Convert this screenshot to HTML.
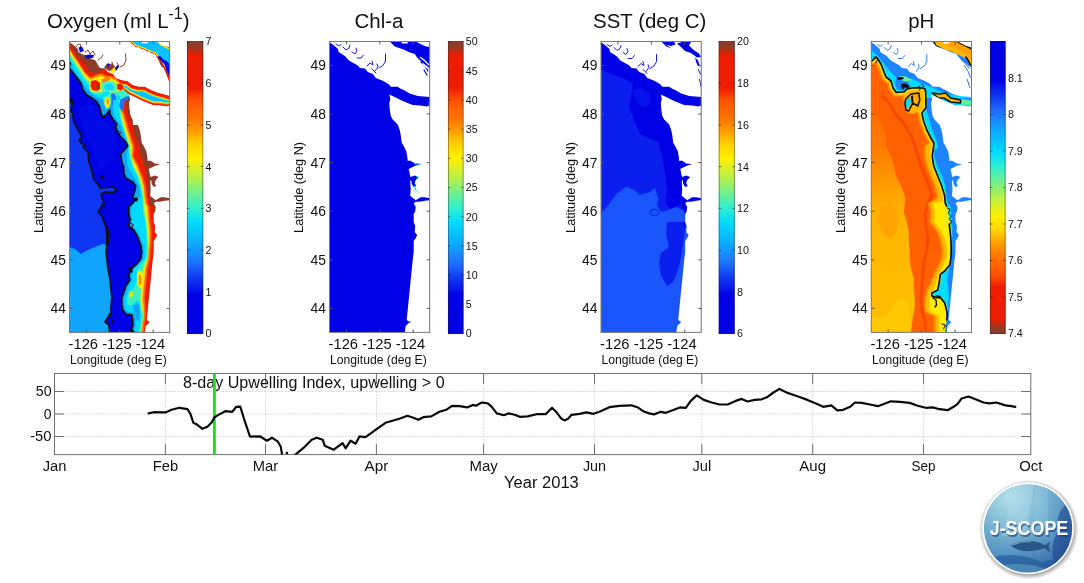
<!DOCTYPE html>
<html><head><meta charset="utf-8"><title>J-SCOPE forecast</title>
<style>html,body{margin:0;padding:0;background:#fff;overflow:hidden}svg{display:block}text{font-family:"Liberation Sans",sans-serif;fill:#111}svg{will-change:transform;transform:translateZ(0)}</style></head><body>
<svg width="1084" height="583" viewBox="0 0 1084 583">
<defs>
<clipPath id="mapclip"><rect x="0" y="0" width="100.2" height="290.9"/></clipPath>
<pattern id="dMed" width="2" height="2" patternUnits="userSpaceOnUse"><rect width="2" height="2" fill="#0000e6"/><rect width="1" height="1" fill="#1e6eff"/><rect x="1" y="1" width="1" height="1" fill="#1e6eff"/></pattern><pattern id="dLight" width="2" height="2" patternUnits="userSpaceOnUse"><rect width="2" height="2" fill="#1e6eff"/><rect width="1" height="1" fill="#00dcff"/><rect x="1" y="1" width="1" height="1" fill="#00dcff"/></pattern><pattern id="dSky" width="2" height="2" patternUnits="userSpaceOnUse"><rect width="2" height="2" fill="#0fa5ff"/><rect width="1" height="1" fill="#00dcff"/><rect x="1" y="1" width="1" height="1" fill="#00dcff"/></pattern><pattern id="dSST1" width="2" height="2" patternUnits="userSpaceOnUse"><rect width="2" height="2" fill="#0000e6"/><rect width="1" height="1" fill="#143cf5"/><rect x="1" y="1" width="1" height="1" fill="#143cf5"/></pattern><pattern id="dSST2" width="2" height="2" patternUnits="userSpaceOnUse"><rect width="2" height="2" fill="#143cf5"/><rect width="1" height="1" fill="#1e6eff"/><rect x="1" y="1" width="1" height="1" fill="#1e6eff"/></pattern><linearGradient id="cmap" x1="0" y1="0" x2="0" y2="1"><stop offset="0%" stop-color="#8c3c28"/><stop offset="1.7%" stop-color="#8c3c28"/><stop offset="5.0%" stop-color="#ee1c00"/><stop offset="16%" stop-color="#ee1c00"/><stop offset="20%" stop-color="#ff5000"/><stop offset="27%" stop-color="#ff7800"/><stop offset="31%" stop-color="#ffa000"/><stop offset="35%" stop-color="#ffd000"/><stop offset="40%" stop-color="#fff000"/><stop offset="46%" stop-color="#c0f040"/><stop offset="52%" stop-color="#70f090"/><stop offset="57%" stop-color="#30f0d0"/><stop offset="62%" stop-color="#00dcff"/><stop offset="70%" stop-color="#0fa5ff"/><stop offset="76%" stop-color="#1e6eff"/><stop offset="81%" stop-color="#0f37f2"/><stop offset="85%" stop-color="#0514ea"/><stop offset="86.4%" stop-color="#0000e6"/><stop offset="100%" stop-color="#0000e6"/></linearGradient><linearGradient id="cmapr" x1="0" y1="0" x2="0" y2="1"><stop offset="0%" stop-color="#0000e6"/><stop offset="13.599999999999994%" stop-color="#0000e6"/><stop offset="15%" stop-color="#0514ea"/><stop offset="19%" stop-color="#0f37f2"/><stop offset="24%" stop-color="#1e6eff"/><stop offset="30%" stop-color="#0fa5ff"/><stop offset="38%" stop-color="#00dcff"/><stop offset="43%" stop-color="#30f0d0"/><stop offset="48%" stop-color="#70f090"/><stop offset="54%" stop-color="#c0f040"/><stop offset="60%" stop-color="#fff000"/><stop offset="65%" stop-color="#ffd000"/><stop offset="69%" stop-color="#ffa000"/><stop offset="73%" stop-color="#ff7800"/><stop offset="80%" stop-color="#ff5000"/><stop offset="84%" stop-color="#ee1c00"/><stop offset="95.0%" stop-color="#ee1c00"/><stop offset="98.3%" stop-color="#8c3c28"/><stop offset="100%" stop-color="#8c3c28"/></linearGradient><linearGradient id="amb" x1="0" y1="0" x2="0" y2="1"><stop offset="0" stop-color="#ff6a00"/><stop offset="0.18" stop-color="#ff7c00"/><stop offset="0.30" stop-color="#ff9400"/><stop offset="0.45" stop-color="#ffb000"/><stop offset="0.6" stop-color="#ffb900"/><stop offset="1" stop-color="#ffbe00"/></linearGradient><radialGradient id="lg1" cx="0.30" cy="0.14" r="0.98"><stop offset="0" stop-color="#b4e0ea"/><stop offset="0.34" stop-color="#82bcd6"/><stop offset="0.66" stop-color="#5794c2"/><stop offset="1" stop-color="#2f5ca4"/></radialGradient><radialGradient id="lgsh" cx="0.5" cy="0.5" r="0.5"><stop offset="0.84" stop-color="#444" stop-opacity="0.75"/><stop offset="1" stop-color="#555" stop-opacity="0"/></radialGradient>
</defs>
<rect width="1084" height="583" fill="#fff"/>
<g transform="translate(69.5,41.5)"><g clip-path="url(#mapclip)">
<rect width="100.2" height="290.9" fill="#0000e6"/><polygon points="-0.5,56.5 2.5,58.5 2.5,64.5 1.5,68.5 3.5,74.5 4.5,80.5 7.5,86.5 10.5,91.5 12.5,95.5 9.5,98.5 11.5,101.5 15.5,103.5 13.5,105.5 18.5,110.5 19.5,120.5 22.5,130.5 24.5,138.5 28.5,142.5 30.5,146.5 33.5,146.5 43.5,145.5 47.5,148.5 43.5,151 35.5,150.5 31.5,152.5 32.5,156.5 34.5,161.5 28.5,170.5 32.5,174.5 34.5,180.5 37.5,187.5 38.5,194.5 37.5,202.5 36.5,210.5 37.5,218.5 38.3,226.5 40.3,236.5 41.3,246.5 42.3,256.5 41.3,266.5 41.3,271.5 35.4,280.5 39.3,283.5 40.3,291.5 -9.5,291.5 -9.5,56.5" fill="url(#dMed)" /><polygon points="-0.5,205.5 5.5,207.5 11.5,212.5 18.5,208.5 25.5,205.5 33.5,202.5 38.5,203.5 36.5,210.5 37.5,218.5 38.3,226.5 40.3,236.5 41.3,246.5 42.3,256.5 41.3,266.5 41.3,271.5 35.4,280.5 39.3,283.5 40.3,291.5 -9.5,291.5 -9.5,205.5" fill="url(#dLight)" /><polygon points="8.5,66.5 22.5,62.5 30.5,76.5 42.5,86.5 48.5,104.5 42.5,118.5 30.5,128.5 22.5,108.5 14.5,88.5" fill="url(#dMed)" opacity="0.18"/><polygon points="-0.5,26.4 3.5,31.4 7.5,36.4 11.4,41.3 13.4,48.3 17.4,53.5 22.4,56.5 27.4,60.5 30.4,65.5 31.4,71.5 33.4,75.5 36.3,73.5 40.3,68.5 40.3,72.5 43.3,77.5 47.3,82.5 46.3,85.5 48.3,91.5 52.3,96.5 56.3,100.5 58.3,104.5 51.3,112.5 52.3,120.5 54.3,125.5 54.3,131.5 56.3,136.5 63.3,140.5 66.2,144.5 65.2,149.5 63.3,155.5 65.2,158.5 63.3,161.5 59.3,165.5 59.3,172.5 60.3,177.5 59.3,184.5 64.2,188.5 68.2,195.5 71.2,203.5 72.2,210.5 71.2,217.5 67.2,222.5 61.3,227.5 59.3,233.5 60.3,238.5 56.3,244.5 54.3,250.5 52.3,256.5 52.3,263.5 53.3,268.5 56.3,272.5 62.3,273.5 63.3,278.5 63.3,284.5 61.3,288.5 65.2,291.5 105.5,291.5 105.5,-5.5 -5.5,-5.5" fill="#0fa5ff" /><polygon points="-5.5,15 0.7,22 3.7,27.4 8.5,34 12.1,40 15.7,45.4 19.3,49 22.5,52.5 26.5,55.5 33.5,58 38.5,55 43.5,58.5 43.5,70.5 105.5,70.5 105.5,-5.5 -5.5,-5.5" fill="#00dcff" /><polygon points="-5.5,9.5 0.7,16.5 3.7,21.9 8.5,28.5 12.1,34.5 15.7,39.9 19.3,43.5 20.5,46 20.5,49.5 24.5,52.5 30.5,53.5 34.5,52.5 33.5,56.5 34.5,62.5 36.5,67.5 39.5,66.5 41.5,61.5 42.5,55.5 46.5,53 50.5,54.5 51.5,58.5 105.5,58.5 105.5,-5.5 -5.5,-5.5" fill="#3cf0c0" /><polygon points="-5.5,6.5 0.7,13.5 3.7,18.9 8.5,25.5 12.1,31.5 15.7,36.9 19.3,40.5 20,42.5 20.3,48.5 23.5,51 30.5,51 36.5,49.5 42.5,51.5 47.5,50.5 51.5,48.5 54.5,48.5 105.5,48.5 105.5,-5.5 -5.5,-5.5" fill="#a0f060" /><polygon points="-5.5,4.5 0.7,11.5 3.7,16.9 8.5,23.5 12.1,29.5 15.7,34.9 19.3,38.5 20,40.5 20.5,48 23.5,50 28.5,50 31.5,47.5 31.5,42.5 34.5,40 40.5,39.5 46.5,42 47.5,47.5 50.5,49.5 54.5,47.5 56.5,46.5 105.5,46.5 105.5,-5.5 -5.5,-5.5" fill="#ffeb00" /><polygon points="-5.5,2.5 0.7,9.5 3.7,14.9 8.5,21.5 12.1,27.5 15.7,32.9 19.3,36.5 21,38 26.5,35.5 32.5,34.3 36.1,36.7 40.9,36.7 44.5,37.9 48.1,40.3 51.5,41.7 59.5,45.7 105.5,45.7 105.5,-5.5 -5.5,-5.5" fill="#ff8000" /><polygon points="-5.5,0.5 0.7,7.5 3.7,12.9 8.5,19.5 12.1,25.5 15.7,30.9 19.3,34.5 21.7,35.7 26.5,33.3 32.5,32.1 36.1,34.5 40.9,34.5 44.5,35.7 48.1,38.1 51.5,39.5 59.5,43.5 69.5,48 85.5,54.5 105.5,58.5 105.5,-5.5 -5.5,-5.5" fill="#ee1c00" /><polygon points="-5.5,-3.5 0.7,3.3 3.7,9.3 8.5,15.3 13.3,19.5 16.9,24.3 19.3,29.7 24.1,31.5 28.9,30.9 32.5,29.1 36.5,27.5 38.5,25.5 105.5,25.5 105.5,-5.5 -5.5,-5.5" fill="#8c3c28" /><polygon points="31.5,39.5 40.5,39.1 47,41.7 47.5,47.5 42.5,50.7 34.5,50.1 31.5,47.5" fill="#50f0c0" /><polygon points="35,43.5 40.5,42 44.5,44.5 43.5,48.5 37.5,49 35,47" fill="#00dcff" /><polygon points="32,37.7 39,36.1 41,38.1 34.5,40.9 32,40.5" fill="#ff8000" /><polygon points="20.5,39 27,37.7 31.5,41.1 31.7,48.1 28,50.5 22,49.5 20.1,44.5" fill="#ffeb00" /><polygon points="21.5,39.5 26.5,38.5 30.5,41.5 30.7,47.5 27.5,49.5 22.5,48.5 21,44.5" fill="#ee1c00" /><polygon points="26.5,44.1 30.1,43.9 30.3,47.3 27.5,48.1" fill="#8c3c28" /><polygon points="46.9,41.7 52.9,41.5 54.9,46.5 51.9,49.9 47.3,48.3" fill="#ffeb00" /><polygon points="47.7,42.5 52.5,42.5 54.1,46.5 51.5,49 48.1,47.5" fill="#ee1c00" /><polygon points="32.5,52 36.5,50 40.5,51 37.5,54.5 33.5,55" fill="#00dcff" /><polygon points="35.5,56.5 38.5,55.5 41,59.5 39.5,65.5 36.5,66.5 35,61.5" fill="#ffeb00" /><polygon points="37,58 39,57.5 39.5,61.5 37.5,63" fill="#ff8000" /><polygon points="41.5,52.5 44.5,51.5 46.5,55.5 45.5,61.5 43,64.5 42,58.5" fill="#1e6eff" /><polygon points="43.5,58.5 43.3,70.5 47.3,78.5 51.3,84.5 54.3,91.5 56.3,97.5 59.3,103.5 57,114.5 58,124.5 64,134.5 69.2,144.5 71.2,154.5 65.5,161.5 62,165.5 61.5,172.5 62.5,177.5 62,184.5 66.5,188.5 70.5,195.5 73.5,203.5 74.5,210.5 73.5,217.5 69.5,222.5 64,227.5 62,233.5 62.5,238.5 59,244.5 57,250.5 55,256.5 55,263.5 56,267.5 58.5,270.5 64.5,271.5 66,278.5 66,284.5 64.5,288.5 67.5,291.5 105.5,291.5 105.5,58.5" fill="#00dcff" /><polygon points="77.5,210.5 75.5,217.5 72,222.5 68,227.5 67,233.5 67,238.5 65,244.5 62.5,248.5 59,252.5 57.5,257.5 58,262.5 61,264.5 64.5,261.5 67.5,258.5 70.5,260.5 71.5,266.5 72,274.5 71,282.5 70,291.5 105.5,291.5 105.5,210.5" fill="#3cf0c0" /><polygon points="48.9,58.5 49.7,68.5 50.7,76.5 52.7,84.5 54.7,91.5 56.7,97.5 58.7,103.5 59.7,114.5 62.6,124.5 67.6,134.5 70.6,144.5 72.6,154.5 73.1,161.5 73.6,170.5 75.6,180.5 76.6,190.5 77.1,200.5 77.1,216.5 74.6,220.5 72.6,226.5 71.6,236.5 70.6,246.5 69.6,256.5 70.6,266.5 72.6,274.5 71.6,280.5 69.6,291.5 105.5,291.5 105.5,58.5" fill="#3cf0c0" /><polygon points="49.9,58.5 50.7,68.5 51.7,76.5 53.7,84.5 55.7,91.5 57.7,97.5 59.7,103.5 60.7,114.5 63.6,124.5 68.6,134.5 71.6,144.5 73.6,154.5 74.1,161.5 74.6,170.5 76.6,180.5 77.6,190.5 78.1,200.5 78.1,216.5 75.6,220.5 73.6,226.5 72.6,236.5 71.6,246.5 70.6,256.5 71.6,266.5 73.6,274.5 72.6,280.5 70.6,291.5 105.5,291.5 105.5,58.5" fill="#a0f060" /><polygon points="50.9,58.5 51.7,68.5 52.7,76.5 54.7,84.5 56.7,91.5 58.7,97.5 60.7,103.5 61.7,114.5 64.6,124.5 69.6,134.5 72.6,144.5 74.6,154.5 75.1,161.5 75.6,170.5 77.6,180.5 78.6,190.5 79.1,200.5 79.1,216.5 76.6,220.5 74.6,226.5 73.6,236.5 72.6,246.5 71.6,256.5 72.6,266.5 74.6,274.5 73.6,280.5 71.6,291.5 105.5,291.5 105.5,58.5" fill="#ffeb00" /><polygon points="51.7,57.5 51.2,68.5 53.7,76.5 55.7,83.5 57.7,90.5 59.7,96.5 61.6,102.5 62.6,106.5 61.6,114.5 66.6,124.5 70.6,134.5 73.6,144.5 74.6,154.5 75.6,161.5 77.6,166.5 77.6,170.5 78.6,180.5 79.6,190.5 79.6,200.5 78.6,210.5 78.1,217.5 75.6,226.5 74.6,236.5 73.6,246.5 72.6,256.5 73.6,266.5 73.9,274.5 72.6,282.5 71.6,291.5 105.5,291.5 105.5,57.5" fill="#ffb000" /><polygon points="52.6,57.5 52.1,68.5 54.6,76.5 56.6,83.5 58.6,90.5 60.6,96.5 62.5,102.5 63.5,106.5 62.5,114.5 67.5,124.5 71.5,134.5 74.5,144.5 75.5,154.5 76.5,161.5 78.5,166.5 78.5,170.5 79.5,180.5 80.5,190.5 80.5,200.5 79.5,210.5 79,217.5 76.5,226.5 75.5,236.5 74.5,246.5 73.5,256.5 74.5,266.5 74.8,274.5 73.5,282.5 72.5,291.5 105.5,291.5 105.5,57.5" fill="#ff6000" /><polygon points="54.3,57.5 53.8,68.5 56.3,76.5 58.3,83.5 60.3,90.5 62.3,96.5 64.2,102.5 65.2,106.5 64.2,114.5 69.2,124.5 73.2,134.5 76.2,144.5 77.2,154.5 78.2,161.5 80.2,166.5 80.2,170.5 81.2,180.5 82.2,190.5 82.2,200.5 81.2,210.5 80.7,217.5 78.2,226.5 77.2,236.5 76.2,246.5 75.2,256.5 76.2,266.5 76.5,274.5 75.2,282.5 74.2,291.5 105.5,291.5 105.5,57.5" fill="#ee1c00" /><polygon points="56.7,56.5 56.3,60.5 57.3,68.5 60.3,76.5 62.3,82.5 64.2,88.5 65.2,94.5 68.2,100.5 70,106.5 71.2,114.5 75.2,124.5 77.2,134.5 78.2,144.5 79.2,154.5 80.4,161.5 83.5,164.5 85,170.5 87.5,174.5 105.5,174.5 105.5,56.5" fill="#8c3c28" /><polygon points="76.5,116.5 95.5,116.5 95.5,164.5 80.5,164.5" fill="#8c3c28" /><polygon points="67.5,230.5 71,229 73.5,232.5 73.5,244.5 70.5,247.5 68,242.5" fill="#ffeb00" /><polygon points="69.1,234.5 71.5,233.5 71.9,242.5 69.7,244" fill="#ff8a00" /><polygon points="59.3,251 62,249.5 64,252.5 62,255.5 59.5,255" fill="#ffeb00" /><polygon points="60.5,251.7 61.9,251.1 62.5,253.1 61.1,253.7" fill="#ffa000" /><polygon points="63,264.5 67.5,261.5 70,264.5 70.5,274.5 68.5,280.5 66,276.5 64.5,269.5" fill="#0fa5ff" /><polygon points="58.5,-5.5 105.5,-5.5 105.5,33.5 90.5,18.5 80.5,12.5 66.5,6.5" fill="url(#dSky)" /><polyline points="61.1,0 65.9,4.5 74.7,7.5 79.7,9.9 85.7,11.9 87.9,15.1" fill="none" stroke="#ffeb00" stroke-width="2.4" stroke-linejoin="round" stroke-linecap="round" /><polyline points="60.3,0 65.2,5 74.2,8 79.2,10.5 85.2,12.5 87.2,15.5" fill="none" stroke="#ee1c00" stroke-width="1.8" stroke-linejoin="round" stroke-linecap="round" stroke-dasharray="5 2 2 3"/><polygon points="71.5,-0.5 78.5,-0.5 77.5,2 72.5,2" fill="#0000e6" /><polygon points="87.5,15.5 90.5,14.5 96.5,20.5 101.5,25.5 101.5,40.5 97.5,36.5 93.5,26.5 88.5,19.5" fill="#0000e6" /><polygon points="89.5,20.5 92.5,21.5 98.5,30.5 100.5,38.5 96.5,34.5 92.5,27.5" fill="#ee1c00" /><polygon points="90.5,22 92.5,23.5 93.5,27 91.5,25.5" fill="#8c3c28" /><polygon points="90.5,1 94.5,2.5 100.5,6 100.5,8.5 94.5,5.5 89.5,3" fill="#ffeb00" /><polygon points="92.5,1.5 96.5,3 100.5,6 100.5,7 95.5,4.5" fill="#ee1c00" /><polyline points="-0.5,26.4 3.5,31.4 7.5,36.4 11.4,41.3 13.4,48.3 17.4,53.5 22.4,56.5 27.4,60.5 30.4,65.5 31.4,71.5 33.4,75.5 36.3,73.5 40.3,68.5 40.3,72.5 43.3,77.5 47.3,82.5 46.3,85.5 48.3,91.5 52.3,96.5 56.3,100.5 58.3,104.5 51.3,112.5 52.3,120.5 54.3,125.5 54.3,131.5 56.3,136.5 63.3,140.5 66.2,144.5 65.2,149.5 63.3,155.5 65.2,158.5 63.3,161.5 59.3,165.5 59.3,172.5 60.3,177.5 59.3,184.5 64.2,188.5 68.2,195.5 71.2,203.5 72.2,210.5 71.2,217.5 67.2,222.5 61.3,227.5 59.3,233.5 60.3,238.5 56.3,244.5 54.3,250.5 52.3,256.5 52.3,263.5 53.3,268.5 56.3,272.5 62.3,273.5 63.3,278.5 63.3,284.5 61.3,288.5 65.2,291.5" fill="none" stroke="#111" stroke-width="1.7" stroke-linejoin="round" stroke-linecap="round" /><polyline points="-0.5,56.5 2.5,58.5 2.5,64.5 1.5,68.5 3.5,74.5 4.5,80.5 7.5,86.5 10.5,91.5 12.5,95.5 9.5,98.5 11.5,101.5 15.5,103.5 13.5,105.5 18.5,110.5 19.5,120.5 22.5,130.5 24.5,138.5 28.5,142.5 30.5,146.5 33.5,146.5 43.5,145.5 47.5,148.5 43.5,151 35.5,150.5 31.5,152.5 32.5,156.5 34.5,161.5 28.5,170.5 32.5,174.5 34.5,180.5 37.5,187.5 38.5,194.5 37.5,202.5 36.5,210.5 37.5,218.5 38.3,226.5 40.3,236.5 41.3,246.5 42.3,256.5 41.3,266.5 41.3,271.5 35.4,280.5 39.3,283.5 40.3,291.5" fill="none" stroke="#111" stroke-width="1.7" stroke-linejoin="round" stroke-linecap="round" /><polyline points="37.1,185.5 38.3,194.5 37.7,203.5" fill="none" stroke="#111" stroke-width="3.0" stroke-linejoin="round" stroke-linecap="round" /><polyline points="60,226.5 62,230" fill="none" stroke="#111" stroke-width="2.6" stroke-linejoin="round" stroke-linecap="round" /><circle cx="32.5" cy="135.5" r="1.9" fill="#111"/><circle cx="2.1" cy="59.5" r="2.2" fill="#111"/><circle cx="0.3" cy="22.0" r="1.4" fill="#111"/><circle cx="66.5" cy="158.0" r="2.0" fill="#111"/><circle cx="61.5" cy="227.5" r="1.6" fill="#111"/><circle cx="37.7" cy="190.5" r="1.7" fill="#111"/><polyline points="45.5,85 44,87 46.5,88.5" fill="none" stroke="#111" stroke-width="1.0" stroke-linejoin="round" stroke-linecap="round" /><polyline points="48.5,89.5 51,91 49.5,93.5" fill="none" stroke="#111" stroke-width="1.0" stroke-linejoin="round" stroke-linecap="round" /><polyline points="32,161.5 35,163.5 36.5,167 34,165.5" fill="none" stroke="#111" stroke-width="1.0" stroke-linejoin="round" stroke-linecap="round" /><polyline points="59,175.5 61.5,178 59.5,180" fill="none" stroke="#111" stroke-width="1.0" stroke-linejoin="round" stroke-linecap="round" /><polyline points="61,181.5 64,183.5 62,186.5" fill="none" stroke="#111" stroke-width="1.0" stroke-linejoin="round" stroke-linecap="round" /><polyline points="39,272.5 42,274 40.5,276.5" fill="none" stroke="#111" stroke-width="1.0" stroke-linejoin="round" stroke-linecap="round" /><polyline points="42,278 44,280 41.5,281.5" fill="none" stroke="#111" stroke-width="1.0" stroke-linejoin="round" stroke-linecap="round" /><polyline points="61.5,287.5 64,288.5 63,290.5" fill="none" stroke="#111" stroke-width="1.0" stroke-linejoin="round" stroke-linecap="round" /><polygon points="0,0 0.5,1 4.5,4 8.5,7.5 9,10.5 15.4,14.4 19.4,18.9 28.4,23.9 30.4,26.4 35.4,26.9 38.3,30.4 43.3,32.4 46.3,36.4 53.3,39.3 59.3,42.8 61.3,45.3 68.2,45.3 71.2,47.3 74.2,48.5 80.2,52 88.2,54.5 94.1,55 100.5,55.5 100.5,26.5 99.1,25.5 95.1,22.5 91.1,19.5 87.2,15.5 85.2,12.5 79.2,10.5 74.2,8 65.2,5 60.3,0" fill="#fff" /><polygon points="85.2,-0.5 101.5,-0.5 101.5,6 95.1,4.5 91.1,2.5" fill="#fff" /><polygon points="72.2,-0.5 78.2,-0.5 78.2,2.1 72.2,2.1" fill="#fff" /><polygon points="101.5,63.5 97.1,64.9 91.1,63.9 83.2,63.5 73.2,59.5 65.2,55.5 59.8,53 60.8,57.5 59.8,61.5 60.3,68.5 61.3,74.5 63.2,77.9 68.2,82.9 70.2,88.4 71.2,93.3 72.2,101.3 74.2,104.5 76.7,109.5 77.7,114.5 78.2,119.5 80.5,119 83.2,120.5 85.2,122.1 91.1,122.5 85.2,124.5 81.2,126.5 79.2,127.5 79.7,129.5 80.7,134.5 81.2,135.5 85.2,133.9 89.2,135.5 86.2,138.5 85.2,141.5 86.7,144.5 84.2,145.5 82.2,142.5 81.7,138.5 80.7,139.5 81.2,147.5 80.7,154.5 82.2,155.5 86.2,158.8 91.1,155.8 95.1,155.8 101.5,156.8 101.5,158.5 95.1,159.3 90.1,160.3 86.2,160.3 84.2,161.8 86.2,165.5 85.7,170 84.2,172.5 84.2,180.5 85.7,184.5 85.2,190.5 87.7,193.5 85.7,197.5 84.2,199.5 84.2,210.5 83.2,218.5 81.2,238.5 80.2,248.5 79.2,258.5 78.2,268.5 77.2,278.5 80.2,280.5 76.2,284.5 75.2,291.5 101.5,291.5" fill="#fff" /><polygon points="47.5,37.5 50.5,38.5 57.9,39.8 62.9,43.5 69,45.3 75.2,45.3 81.4,48.4 87.6,50.9 93.8,52.7 105.5,56 105.5,63.5 97.1,64.9 91.1,63.9 83.2,63.5 73.2,59.5 65.2,55.5 59.8,53 55.5,49.5" fill="#ee1c00" /><polygon points="46.6,40.4 49.6,41.4 57,42.7 62,46.4 68.1,48.2 74.3,48.2 80.5,51.3 86.7,53.8 92.9,55.6 104.6,58.9 105.5,61.8 97.1,63.2 91.1,62.2 83.2,61.8 73.2,57.8 65.2,53.8 59.8,51.3 55.5,47.8" fill="#ff8000" /><polygon points="46.5,41 49.5,42 56.9,43.3 61.8,47 67.9,48.8 74.1,48.8 80.3,51.9 86.5,54.4 92.8,56.2 104.4,59.5 105.5,60.9 97.1,62.3 91.1,61.3 83.2,60.9 73.2,56.9 65.2,52.9 59.8,50.4 55.5,46.9" fill="#ffeb00" /><polygon points="46.2,41.7 49.2,42.7 56.6,44 61.6,47.7 67.7,49.5 73.9,49.5 80.1,52.6 86.3,55.1 92.5,56.9 104.2,60.2 105.5,60 97.1,61.4 91.1,60.4 83.2,60 73.2,56 65.2,52 59.8,49.5 55.5,46" fill="#50f0b0" /><polygon points="46.1,42.3 49.1,43.3 56.5,44.6 61.5,48.3 67.6,50.1 73.8,50.1 80,53.2 86.2,55.7 92.4,57.5 104.1,60.8 105.5,59.4 97.1,60.8 91.1,59.8 83.2,59.4 73.2,55.4 65.2,51.4 59.8,48.9 55.5,45.4" fill="url(#dSky)" /><polygon points="47.7,42.5 52.5,42.5 54.1,46.5 51.5,49 48.1,47.5" fill="#ee1c00" /><polygon points="50.5,58.5 56.5,55 60,54.5 59.1,58.5 55,59 54.5,64.5 52.5,70.5 49.5,64.5" fill="#1e6eff" /><polygon points="59.8,53 65.2,55.5 73.2,59.5 83.2,63.5 91.1,63.9 97.1,64.9 105.5,63.5 105.5,83.5 63.5,83.5 63.2,77.9 61.3,74.5 60.3,68.5 59.8,61.5 60.8,57.5" fill="#fff" /><polygon points="93.5,18.5 96.5,19 101,23.5 101,39.5 99,35.5 96.5,27.5" fill="#0000e6" /><polyline points="89,17.5 92.5,22 95.5,27.5 98,33.5 100.3,39.5" fill="none" stroke="#ee1c00" stroke-width="1.7" stroke-linejoin="round" stroke-linecap="round" /><polyline points="91,21 93,24.5" fill="none" stroke="#8c3c28" stroke-width="2.2" stroke-linejoin="round" stroke-linecap="round" /><polyline points="97,29.5 98.5,33" fill="none" stroke="#8c3c28" stroke-width="1.6" stroke-linejoin="round" stroke-linecap="round" /><polyline points="6.5,5.5 9,2.5 11.5,3.5 10.5,7" fill="none" stroke="#8c3c28" stroke-width="1.0" stroke-linejoin="round" stroke-linecap="round" /><polyline points="15.5,10.5 18.5,8.5 20.5,12.5 23.5,9.5 25.5,13.5" fill="none" stroke="#8c3c28" stroke-width="1.0" stroke-linejoin="round" stroke-linecap="round" /><polyline points="28.5,18.5 31.5,16.5 33.5,13.5" fill="none" stroke="#8c3c28" stroke-width="1.0" stroke-linejoin="round" stroke-linecap="round" /><polyline points="38.5,26.5 40.5,22.5 43.5,24.5 42.5,20.5" fill="none" stroke="#8c3c28" stroke-width="1.0" stroke-linejoin="round" stroke-linecap="round" /><polyline points="46.5,28.5 49.5,24.5 47.5,21.5" fill="none" stroke="#8c3c28" stroke-width="1.0" stroke-linejoin="round" stroke-linecap="round" /><polyline points="50.5,25.5 54.5,23.5 56.5,18.5 56,12.5" fill="none" stroke="#8c3c28" stroke-width="1.0" stroke-linejoin="round" stroke-linecap="round" /><polygon points="13.5,13 19,14 21.5,17.5 25.5,18.5 28,22.5 30.5,27.5 28.5,28.5 22.5,24.5 16.5,19" fill="#8c3c28" /><polygon points="34.5,26 37.5,22 40.5,24.5 42.5,21.5 45.5,25 44,30.5 38.5,29" fill="#8c3c28" /><polygon points="40.5,29.5 46.5,24.5 49,25.5 43.5,32" fill="#ffeb00" /><polygon points="9,6 12.5,5 14.5,9.5 10.5,11" fill="#0000e6" /><polygon points="16,14 19.5,13 24.5,13.5 23.5,16.5 16.5,17" fill="#0000e6" /><polygon points="37.5,22.5 39.5,21.5 40.5,24.5 38.5,25.5" fill="#0000e6" /><polygon points="45.5,26.5 48,23.5 49.5,25 46.5,29.5" fill="#0000e6" />
</g></g>
<rect x="69.5" y="41.5" width="100.2" height="290.9" fill="none" stroke="#7a7a7a" stroke-width="1"/><path d="M69.5 65.4h3M169.7 65.4h-3" stroke="#5a5a5a" stroke-width="1"/><text x="65.9" y="70.3" font-size="13.8" text-anchor="end" textLength="15.4" lengthAdjust="spacingAndGlyphs" >49</text><path d="M69.5 114.0h3M169.7 114.0h-3" stroke="#5a5a5a" stroke-width="1"/><text x="65.9" y="118.9" font-size="13.8" text-anchor="end" textLength="15.4" lengthAdjust="spacingAndGlyphs" >48</text><path d="M69.5 162.6h3M169.7 162.6h-3" stroke="#5a5a5a" stroke-width="1"/><text x="65.9" y="167.5" font-size="13.8" text-anchor="end" textLength="15.4" lengthAdjust="spacingAndGlyphs" >47</text><path d="M69.5 211.2h3M169.7 211.2h-3" stroke="#5a5a5a" stroke-width="1"/><text x="65.9" y="216.1" font-size="13.8" text-anchor="end" textLength="15.4" lengthAdjust="spacingAndGlyphs" >46</text><path d="M69.5 259.8h3M169.7 259.8h-3" stroke="#5a5a5a" stroke-width="1"/><text x="65.9" y="264.7" font-size="13.8" text-anchor="end" textLength="15.4" lengthAdjust="spacingAndGlyphs" >45</text><path d="M69.5 308.4h3M169.7 308.4h-3" stroke="#5a5a5a" stroke-width="1"/><text x="65.9" y="313.3" font-size="13.8" text-anchor="end" textLength="15.4" lengthAdjust="spacingAndGlyphs" >44</text><path d="M86.4 332.4v-3M86.4 41.5v3" stroke="#5a5a5a" stroke-width="1"/><path d="M119.8 332.4v-3M119.8 41.5v3" stroke="#5a5a5a" stroke-width="1"/><path d="M153.2 332.4v-3M153.2 41.5v3" stroke="#5a5a5a" stroke-width="1"/><text x="68.6" y="349.0" font-size="13.8" text-anchor="start" textLength="96.6" lengthAdjust="spacingAndGlyphs" xml:space="preserve">-126 -125 -124</text><text x="70.1" y="364.2" font-size="12.2" text-anchor="start" textLength="96.6" lengthAdjust="spacingAndGlyphs" >Longitude (deg E)</text><text transform="translate(43.0,187.4) rotate(-90)" font-size="12.2" text-anchor="middle" textLength="91" lengthAdjust="spacingAndGlyphs">Latitude (deg N)</text>
<rect x="187.0" y="41.0" width="16.2" height="293.0" fill="url(#cmap)"/><path d="M187.4 41.0V333.5H202.79999999999998V41.0" fill="none" stroke="#222" stroke-width="0.8" stroke-opacity="0.55"/><path d="M187.0 333.5h2.5M203.2 333.5h-2.5" stroke="#222" stroke-width="0.8" stroke-opacity="0.7"/><text x="205.5" y="337.4" font-size="10.67" text-anchor="start" >0</text><path d="M187.0 291.8h2.5M203.2 291.8h-2.5" stroke="#222" stroke-width="0.8" stroke-opacity="0.7"/><text x="205.5" y="295.6" font-size="10.67" text-anchor="start" >1</text><path d="M187.0 250.1h2.5M203.2 250.1h-2.5" stroke="#222" stroke-width="0.8" stroke-opacity="0.7"/><text x="205.5" y="253.9" font-size="10.67" text-anchor="start" >2</text><path d="M187.0 208.4h2.5M203.2 208.4h-2.5" stroke="#222" stroke-width="0.8" stroke-opacity="0.7"/><text x="205.5" y="212.2" font-size="10.67" text-anchor="start" >3</text><path d="M187.0 166.6h2.5M203.2 166.6h-2.5" stroke="#222" stroke-width="0.8" stroke-opacity="0.7"/><text x="205.5" y="170.5" font-size="10.67" text-anchor="start" >4</text><path d="M187.0 124.9h2.5M203.2 124.9h-2.5" stroke="#222" stroke-width="0.8" stroke-opacity="0.7"/><text x="205.5" y="128.8" font-size="10.67" text-anchor="start" >5</text><path d="M187.0 83.2h2.5M203.2 83.2h-2.5" stroke="#222" stroke-width="0.8" stroke-opacity="0.7"/><text x="205.5" y="87.1" font-size="10.67" text-anchor="start" >6</text><path d="M187.0 41.5h2.5M203.2 41.5h-2.5" stroke="#222" stroke-width="0.8" stroke-opacity="0.7"/><text x="205.5" y="45.4" font-size="10.67" text-anchor="start" >7</text>
<g transform="translate(329.5,41.5)"><g clip-path="url(#mapclip)">
<rect width="100.2" height="290.9" fill="#0000e6"/><polygon points="0,0 0.5,1 4.5,4 8.5,7.5 9,10.5 15.4,14.4 19.4,18.9 28.4,23.9 30.4,26.4 35.4,26.9 38.3,30.4 43.3,32.4 46.3,36.4 53.3,39.3 59.3,42.8 61.3,45.3 68.2,45.3 71.2,47.3 74.2,48.5 80.2,52 88.2,54.5 94.1,55 100.5,55.5 100.5,26.5 99.1,25.5 95.1,22.5 91.1,19.5 87.2,15.5 85.2,12.5 79.2,10.5 74.2,8 65.2,5 60.3,0" fill="#fff" /><polygon points="85.2,-0.5 101.5,-0.5 101.5,6 95.1,4.5 91.1,2.5" fill="#fff" /><polygon points="72.2,-0.5 78.2,-0.5 78.2,2.1 72.2,2.1" fill="#fff" /><polygon points="101.5,63.5 97.1,64.9 91.1,63.9 83.2,63.5 73.2,59.5 65.2,55.5 59.8,53 60.8,57.5 59.8,61.5 60.3,68.5 61.3,74.5 63.2,77.9 68.2,82.9 70.2,88.4 71.2,93.3 72.2,101.3 74.2,104.5 76.7,109.5 77.7,114.5 78.2,119.5 80.5,119 83.2,120.5 85.2,122.1 91.1,122.5 85.2,124.5 81.2,126.5 79.2,127.5 79.7,129.5 80.7,134.5 81.2,135.5 85.2,133.9 89.2,135.5 86.2,138.5 85.2,141.5 86.7,144.5 84.2,145.5 82.2,142.5 81.7,138.5 80.7,139.5 81.2,147.5 80.7,154.5 82.2,155.5 86.2,158.8 91.1,155.8 95.1,155.8 101.5,156.8 101.5,158.5 95.1,159.3 90.1,160.3 86.2,160.3 84.2,161.8 86.2,165.5 85.7,170 84.2,172.5 84.2,180.5 85.7,184.5 85.2,190.5 87.7,193.5 85.7,197.5 84.2,199.5 84.2,210.5 83.2,218.5 81.2,238.5 80.2,248.5 79.2,258.5 78.2,268.5 77.2,278.5 80.2,280.5 76.2,284.5 75.2,291.5 101.5,291.5" fill="#fff" /><polyline points="6.5,2.5 9.5,4.5 11.5,3" fill="none" stroke="#0000e6" stroke-width="0.9" stroke-linejoin="round" stroke-linecap="round" /><polyline points="13.5,5.5 16.5,8.5 19.5,6.5 20.5,3.5" fill="none" stroke="#0000e6" stroke-width="0.9" stroke-linejoin="round" stroke-linecap="round" /><polyline points="22.5,10.5 25.5,12.5 27.5,9.5 26.5,6.5" fill="none" stroke="#0000e6" stroke-width="0.9" stroke-linejoin="round" stroke-linecap="round" /><polyline points="27.5,16.5 31.5,16.5 34,13.5" fill="none" stroke="#0000e6" stroke-width="0.9" stroke-linejoin="round" stroke-linecap="round" /><polyline points="37.5,24.5 40.5,21.5 43.5,23.5 42.5,19.5" fill="none" stroke="#0000e6" stroke-width="0.9" stroke-linejoin="round" stroke-linecap="round" /><polyline points="45.5,29.5 48.5,25.5 47.5,22.5" fill="none" stroke="#0000e6" stroke-width="0.9" stroke-linejoin="round" stroke-linecap="round" /><polyline points="49.5,26.5 53.5,24 56,19.5 56,12.5" fill="none" stroke="#0000e6" stroke-width="0.9" stroke-linejoin="round" stroke-linecap="round" /><polyline points="42.5,27.5 46.5,31.5" fill="none" stroke="#0000e6" stroke-width="0.9" stroke-linejoin="round" stroke-linecap="round" /><polyline points="89.5,14.5 94.5,18.5 99.5,24.5" fill="none" stroke="#0000e6" stroke-width="1.2" stroke-linejoin="round" stroke-linecap="round" /><polyline points="91.5,20.5 95.5,24.5 98.5,29.5" fill="none" stroke="#0000e6" stroke-width="1.2" stroke-linejoin="round" stroke-linecap="round" /><polyline points="94.5,28.5 97.5,33.5" fill="none" stroke="#0000e6" stroke-width="1.2" stroke-linejoin="round" stroke-linecap="round" /><polygon points="87.5,12 91.5,13.5 100.5,20.5 100.5,27.5 96.5,23.5 91.5,18.5" fill="#0000e6" /><polyline points="91,16 94.5,18.5 99,23" fill="none" stroke="#fff" stroke-width="1.3" stroke-linejoin="round" stroke-linecap="round" /><polyline points="93.5,22.5 97,26" fill="none" stroke="#fff" stroke-width="1.3" stroke-linejoin="round" stroke-linecap="round" /><polyline points="85.2,122.5 91,122.3" fill="none" stroke="#00dcff" stroke-width="1.0" stroke-linejoin="round" stroke-linecap="round" /><polyline points="86.5,134.5 89,136.5" fill="none" stroke="#00dcff" stroke-width="1.0" stroke-linejoin="round" stroke-linecap="round" /><polyline points="85,144.5 86.5,148.5" fill="none" stroke="#00dcff" stroke-width="1.2" stroke-linejoin="round" stroke-linecap="round" /><polyline points="83.5,148.5 85.5,151 87.5,149 89,151.5" fill="none" stroke="#6cf096" stroke-width="0.8" stroke-linejoin="round" stroke-linecap="round" /><polyline points="80,280.8 81,280" fill="none" stroke="#0fa5ff" stroke-width="1.2" stroke-linejoin="round" stroke-linecap="round" />
</g></g>
<rect x="329.5" y="41.5" width="100.2" height="290.9" fill="none" stroke="#7a7a7a" stroke-width="1"/><path d="M329.5 65.4h3M429.7 65.4h-3" stroke="#5a5a5a" stroke-width="1"/><text x="325.9" y="70.3" font-size="13.8" text-anchor="end" textLength="15.4" lengthAdjust="spacingAndGlyphs" >49</text><path d="M329.5 114.0h3M429.7 114.0h-3" stroke="#5a5a5a" stroke-width="1"/><text x="325.9" y="118.9" font-size="13.8" text-anchor="end" textLength="15.4" lengthAdjust="spacingAndGlyphs" >48</text><path d="M329.5 162.6h3M429.7 162.6h-3" stroke="#5a5a5a" stroke-width="1"/><text x="325.9" y="167.5" font-size="13.8" text-anchor="end" textLength="15.4" lengthAdjust="spacingAndGlyphs" >47</text><path d="M329.5 211.2h3M429.7 211.2h-3" stroke="#5a5a5a" stroke-width="1"/><text x="325.9" y="216.1" font-size="13.8" text-anchor="end" textLength="15.4" lengthAdjust="spacingAndGlyphs" >46</text><path d="M329.5 259.8h3M429.7 259.8h-3" stroke="#5a5a5a" stroke-width="1"/><text x="325.9" y="264.7" font-size="13.8" text-anchor="end" textLength="15.4" lengthAdjust="spacingAndGlyphs" >45</text><path d="M329.5 308.4h3M429.7 308.4h-3" stroke="#5a5a5a" stroke-width="1"/><text x="325.9" y="313.3" font-size="13.8" text-anchor="end" textLength="15.4" lengthAdjust="spacingAndGlyphs" >44</text><path d="M346.4 332.4v-3M346.4 41.5v3" stroke="#5a5a5a" stroke-width="1"/><path d="M379.8 332.4v-3M379.8 41.5v3" stroke="#5a5a5a" stroke-width="1"/><path d="M413.2 332.4v-3M413.2 41.5v3" stroke="#5a5a5a" stroke-width="1"/><text x="328.6" y="349.0" font-size="13.8" text-anchor="start" textLength="96.6" lengthAdjust="spacingAndGlyphs" xml:space="preserve">-126 -125 -124</text><text x="330.1" y="364.2" font-size="12.2" text-anchor="start" textLength="96.6" lengthAdjust="spacingAndGlyphs" >Longitude (deg E)</text><text transform="translate(303.0,187.4) rotate(-90)" font-size="12.2" text-anchor="middle" textLength="91" lengthAdjust="spacingAndGlyphs">Latitude (deg N)</text>
<rect x="448.0" y="41.0" width="15.5" height="293.0" fill="url(#cmap)"/><path d="M448.4 41.0V333.5H463.1V41.0" fill="none" stroke="#222" stroke-width="0.8" stroke-opacity="0.55"/><path d="M448.0 333.5h2.5M463.5 333.5h-2.5" stroke="#222" stroke-width="0.8" stroke-opacity="0.7"/><text x="465.8" y="337.4" font-size="10.67" text-anchor="start" >0</text><path d="M448.0 304.3h2.5M463.5 304.3h-2.5" stroke="#222" stroke-width="0.8" stroke-opacity="0.7"/><text x="465.8" y="308.2" font-size="10.67" text-anchor="start" >5</text><path d="M448.0 275.1h2.5M463.5 275.1h-2.5" stroke="#222" stroke-width="0.8" stroke-opacity="0.7"/><text x="465.8" y="279.0" font-size="10.67" text-anchor="start" >10</text><path d="M448.0 245.9h2.5M463.5 245.9h-2.5" stroke="#222" stroke-width="0.8" stroke-opacity="0.7"/><text x="465.8" y="249.8" font-size="10.67" text-anchor="start" >15</text><path d="M448.0 216.7h2.5M463.5 216.7h-2.5" stroke="#222" stroke-width="0.8" stroke-opacity="0.7"/><text x="465.8" y="220.5" font-size="10.67" text-anchor="start" >20</text><path d="M448.0 187.5h2.5M463.5 187.5h-2.5" stroke="#222" stroke-width="0.8" stroke-opacity="0.7"/><text x="465.8" y="191.3" font-size="10.67" text-anchor="start" >25</text><path d="M448.0 158.3h2.5M463.5 158.3h-2.5" stroke="#222" stroke-width="0.8" stroke-opacity="0.7"/><text x="465.8" y="162.2" font-size="10.67" text-anchor="start" >30</text><path d="M448.0 129.1h2.5M463.5 129.1h-2.5" stroke="#222" stroke-width="0.8" stroke-opacity="0.7"/><text x="465.8" y="133.0" font-size="10.67" text-anchor="start" >35</text><path d="M448.0 99.9h2.5M463.5 99.9h-2.5" stroke="#222" stroke-width="0.8" stroke-opacity="0.7"/><text x="465.8" y="103.7" font-size="10.67" text-anchor="start" >40</text><path d="M448.0 70.7h2.5M463.5 70.7h-2.5" stroke="#222" stroke-width="0.8" stroke-opacity="0.7"/><text x="465.8" y="74.5" font-size="10.67" text-anchor="start" >45</text><path d="M448.0 41.5h2.5M463.5 41.5h-2.5" stroke="#222" stroke-width="0.8" stroke-opacity="0.7"/><text x="465.8" y="45.4" font-size="10.67" text-anchor="start" >50</text>
<g transform="translate(601.0,41.5)"><g clip-path="url(#mapclip)">
<rect width="100.2" height="290.9" fill="url(#dSST1)"/><polygon points="-6,27.5 0,27.5 11,32.5 23,37.5 32,41.5 30,54.5 28,65.5 33,78.5 39,92.5 45,95.5 57,100.5 61,114.5 64,131.5 66,148.5 64.4,162.5 71,169.1 76,164 81.5,162.5 79,170.5 81,180.5 85,188.5 109,188.5 109,-5.5 -6,-5.5" fill="#0000e6" /><polygon points="-6,172.5 0,172.5 8,162.5 16,152 25,145.1 33.5,148.5 38.6,153.5 49,150.5 54,146.5 57.5,157.1 56,164 60,170.5 66,169.1 74.6,165.5 83,169.1 85,180.5 66,180.5 65,192.5 68,205.5 60,211.5 58,221.5 60,234 66,244.5 72,240.5 76,231.5 79,221.5 82.5,201.1 85,180.5 109,180.5 109,298.5 -6,298.5" fill="url(#dSST2)" /><ellipse cx="53.5" cy="171.0" rx="4.2" ry="3.2" fill="none" stroke="#0a30e6" stroke-width="1.3"/><polygon points="32,48.5 41,46.5 49,52.5 50,62.5 43,66.5 35,60.5" fill="url(#dSST1)" opacity="0.6"/><g><polygon points="0,0 0.5,1 4.5,4 8.5,7.5 9,10.5 15.4,14.4 19.4,18.9 28.4,23.9 30.4,26.4 35.4,26.9 38.3,30.4 43.3,32.4 46.3,36.4 53.3,39.3 59.3,42.8 61.3,45.3 68.2,45.3 71.2,47.3 74.2,48.5 80.2,52 88.2,54.5 94.1,55 100.5,55.5 100.5,26.5 99.1,25.5 95.1,22.5 91.1,19.5 87.2,15.5 85.2,12.5 79.2,10.5 74.2,8 65.2,5 60.3,0" fill="#fff" /><polygon points="85.2,-0.5 101.5,-0.5 101.5,6 95.1,4.5 91.1,2.5" fill="#fff" /><polygon points="72.2,-0.5 78.2,-0.5 78.2,2.1 72.2,2.1" fill="#fff" /><polygon points="101.5,63.5 97.1,64.9 91.1,63.9 83.2,63.5 73.2,59.5 65.2,55.5 59.8,53 60.8,57.5 59.8,61.5 60.3,68.5 61.3,74.5 63.2,77.9 68.2,82.9 70.2,88.4 71.2,93.3 72.2,101.3 74.2,104.5 76.7,109.5 77.7,114.5 78.2,119.5 80.5,119 83.2,120.5 85.2,122.1 91.1,122.5 85.2,124.5 81.2,126.5 79.2,127.5 79.7,129.5 80.7,134.5 81.2,135.5 85.2,133.9 89.2,135.5 86.2,138.5 85.2,141.5 86.7,144.5 84.2,145.5 82.2,142.5 81.7,138.5 80.7,139.5 81.2,147.5 80.7,154.5 82.2,155.5 86.2,158.8 91.1,155.8 95.1,155.8 101.5,156.8 101.5,158.5 95.1,159.3 90.1,160.3 86.2,160.3 84.2,161.8 86.2,165.5 85.7,170 84.2,172.5 84.2,180.5 85.7,184.5 85.2,190.5 87.7,193.5 85.7,197.5 84.2,199.5 84.2,210.5 83.2,218.5 81.2,238.5 80.2,248.5 79.2,258.5 78.2,268.5 77.2,278.5 80.2,280.5 76.2,284.5 75.2,291.5 101.5,291.5" fill="#fff" /></g><polygon points="59,-1 101,-1 101,30 90,22 75,10" fill="#fff" /><polygon points="60.5,0 73,0 74.5,3 70,4.5 64,3" fill="#0000e6" /><polygon points="76,2 81,0.5 90,0.5 88,4 92,8 98,12 100,15.5 96,16 90,11.5 84,9.5 80,5.5" fill="#0000e6" /><polygon points="94,16 97,19 99,25 96.5,24 95,20" fill="#0000e6" /><polyline points="97.5,28 99.5,33" fill="none" stroke="#0000e6" stroke-width="0.9" stroke-linejoin="round" stroke-linecap="round" /><polyline points="98.5,38 100,45" fill="none" stroke="#0000e6" stroke-width="0.9" stroke-linejoin="round" stroke-linecap="round" /><polyline points="6,3 9,5 11,3.5" fill="none" stroke="#0000e6" stroke-width="0.9" stroke-linejoin="round" stroke-linecap="round" /><polyline points="13,6 16,9 19,7 20,4" fill="none" stroke="#0000e6" stroke-width="0.9" stroke-linejoin="round" stroke-linecap="round" /><polyline points="22,11 25,13 27,10 26,7" fill="none" stroke="#0000e6" stroke-width="0.9" stroke-linejoin="round" stroke-linecap="round" /><polyline points="27,17 31,17 33.5,14" fill="none" stroke="#0000e6" stroke-width="0.9" stroke-linejoin="round" stroke-linecap="round" /><polyline points="37,25 40,22 43,24 42,20" fill="none" stroke="#0000e6" stroke-width="0.9" stroke-linejoin="round" stroke-linecap="round" /><polyline points="45,30 48,26 47,23" fill="none" stroke="#0000e6" stroke-width="0.9" stroke-linejoin="round" stroke-linecap="round" /><polyline points="49,27 53,24.5 55.5,20 55.5,13" fill="none" stroke="#0000e6" stroke-width="0.9" stroke-linejoin="round" stroke-linecap="round" /><polyline points="42,28 46,32" fill="none" stroke="#0000e6" stroke-width="0.9" stroke-linejoin="round" stroke-linecap="round" />
</g></g>
<rect x="601.0" y="41.5" width="100.2" height="290.9" fill="none" stroke="#7a7a7a" stroke-width="1"/><path d="M601.0 65.4h3M701.2 65.4h-3" stroke="#5a5a5a" stroke-width="1"/><text x="597.4" y="70.3" font-size="13.8" text-anchor="end" textLength="15.4" lengthAdjust="spacingAndGlyphs" >49</text><path d="M601.0 114.0h3M701.2 114.0h-3" stroke="#5a5a5a" stroke-width="1"/><text x="597.4" y="118.9" font-size="13.8" text-anchor="end" textLength="15.4" lengthAdjust="spacingAndGlyphs" >48</text><path d="M601.0 162.6h3M701.2 162.6h-3" stroke="#5a5a5a" stroke-width="1"/><text x="597.4" y="167.5" font-size="13.8" text-anchor="end" textLength="15.4" lengthAdjust="spacingAndGlyphs" >47</text><path d="M601.0 211.2h3M701.2 211.2h-3" stroke="#5a5a5a" stroke-width="1"/><text x="597.4" y="216.1" font-size="13.8" text-anchor="end" textLength="15.4" lengthAdjust="spacingAndGlyphs" >46</text><path d="M601.0 259.8h3M701.2 259.8h-3" stroke="#5a5a5a" stroke-width="1"/><text x="597.4" y="264.7" font-size="13.8" text-anchor="end" textLength="15.4" lengthAdjust="spacingAndGlyphs" >45</text><path d="M601.0 308.4h3M701.2 308.4h-3" stroke="#5a5a5a" stroke-width="1"/><text x="597.4" y="313.3" font-size="13.8" text-anchor="end" textLength="15.4" lengthAdjust="spacingAndGlyphs" >44</text><path d="M617.9 332.4v-3M617.9 41.5v3" stroke="#5a5a5a" stroke-width="1"/><path d="M651.3 332.4v-3M651.3 41.5v3" stroke="#5a5a5a" stroke-width="1"/><path d="M684.7 332.4v-3M684.7 41.5v3" stroke="#5a5a5a" stroke-width="1"/><text x="600.1" y="349.0" font-size="13.8" text-anchor="start" textLength="96.6" lengthAdjust="spacingAndGlyphs" xml:space="preserve">-126 -125 -124</text><text x="601.6" y="364.2" font-size="12.2" text-anchor="start" textLength="96.6" lengthAdjust="spacingAndGlyphs" >Longitude (deg E)</text><text transform="translate(574.5,187.4) rotate(-90)" font-size="12.2" text-anchor="middle" textLength="91" lengthAdjust="spacingAndGlyphs">Latitude (deg N)</text>
<rect x="718.75" y="41.0" width="16.0" height="293.0" fill="url(#cmap)"/><path d="M719.15 41.0V333.5H734.35V41.0" fill="none" stroke="#222" stroke-width="0.8" stroke-opacity="0.55"/><path d="M718.75 333.5h2.5M734.75 333.5h-2.5" stroke="#222" stroke-width="0.8" stroke-opacity="0.7"/><text x="737.0" y="337.4" font-size="10.67" text-anchor="start" >6</text><path d="M718.75 291.8h2.5M734.75 291.8h-2.5" stroke="#222" stroke-width="0.8" stroke-opacity="0.7"/><text x="737.0" y="295.6" font-size="10.67" text-anchor="start" >8</text><path d="M718.75 250.1h2.5M734.75 250.1h-2.5" stroke="#222" stroke-width="0.8" stroke-opacity="0.7"/><text x="737.0" y="253.9" font-size="10.67" text-anchor="start" >10</text><path d="M718.75 208.4h2.5M734.75 208.4h-2.5" stroke="#222" stroke-width="0.8" stroke-opacity="0.7"/><text x="737.0" y="212.2" font-size="10.67" text-anchor="start" >12</text><path d="M718.75 166.6h2.5M734.75 166.6h-2.5" stroke="#222" stroke-width="0.8" stroke-opacity="0.7"/><text x="737.0" y="170.5" font-size="10.67" text-anchor="start" >14</text><path d="M718.75 124.9h2.5M734.75 124.9h-2.5" stroke="#222" stroke-width="0.8" stroke-opacity="0.7"/><text x="737.0" y="128.8" font-size="10.67" text-anchor="start" >16</text><path d="M718.75 83.2h2.5M734.75 83.2h-2.5" stroke="#222" stroke-width="0.8" stroke-opacity="0.7"/><text x="737.0" y="87.1" font-size="10.67" text-anchor="start" >18</text><path d="M718.75 41.5h2.5M734.75 41.5h-2.5" stroke="#222" stroke-width="0.8" stroke-opacity="0.7"/><text x="737.0" y="45.4" font-size="10.67" text-anchor="start" >20</text>
<g transform="translate(871.3,41.5)"><g clip-path="url(#mapclip)">
<rect width="100.2" height="290.9" fill="#ff6000"/><polygon points="-6.3,66.5 0.2,68.5 8.7,78.5 14.7,93.5 14.7,104.5 21.7,119.5 24.7,134.5 29.7,144.5 33.7,154.5 33.6,161.5 32.6,170.5 35.6,180.5 37.5,190.5 37.5,200.5 38.5,210.5 38.5,218.5 39.5,226.5 42.5,236.5 42.5,246.5 43.5,256.5 43.5,266.5 41.5,276.5 39.5,292.5 -6.3,292.5" fill="url(#amb)" /><polygon points="8.7,164.5 18.7,162.5 25.7,170.5 26.7,186.5 20.7,196.5 12.7,194.5 6.7,180.5" fill="#ffa400" /><polygon points="-0.3,274.5 8.7,276.5 18.7,270.5 25.7,258.5 31.7,255.5 36.7,260.5 39.7,274.5 38.7,292.5 -0.3,292.5" fill="#ffc800" /><polyline points="10.7,54.5 15.7,58.5 20.7,66.5 25.7,74.5 31.7,80.5 36.7,88.5 40.7,96.5 43.7,104.5 46.7,114.5 49.7,124.5 53.7,134.5 57.7,144.5 60.7,154.5 56.7,162.5 53.7,172.5 54.7,184.5 56.7,196.5 55.7,208.5 52.7,220.5 51.7,232.5 50.7,244.5 49.7,256.5 50.7,268.5 53.7,280.5 54.7,292.5" fill="none" stroke="#f03800" stroke-width="3.0" stroke-linejoin="round" stroke-linecap="round" stroke-dasharray="3 1.2 1.5 1" opacity="0.6"/><polygon points="-8.3,24 -1.8,23 1.7,19.5 4.2,22.5 6.2,26.5 8.7,33.5 11.2,38.5 15.7,42 17.7,48.5 21.2,53 25.7,54.3 30.7,54 34.7,70.5 38.7,72.5 43.7,70.5 46.5,71.5 47.5,80.5 50.5,88.5 54.5,96.5 57.5,101.5 52.5,104.5 52.5,114.5 54.5,124.5 58.5,134.5 62.4,144.5 65.4,154.5 62.7,158.5 56.5,161.5 58.5,170.5 57.5,180.5 64.4,188.5 68.4,198.5 70.4,208.5 69.4,217.5 66.4,224.5 62.4,231.5 58.5,241.5 54.5,249.5 52.5,258.5 52.5,266.5 53.5,270.5 62.4,274.5 62.4,292.5 106.7,292.5 106.7,-5.5 -8.3,-5.5" fill="#ff8c00" /><polyline points="-0.8,20 1.7,18.5 4.7,15.5 7.2,18.5 9.7,22.5 12.7,30.5 14.7,35.5 19.7,39.5 21.7,46.5 24.7,50.8 32.7,50.3 35.7,47.3 41.5,46.3 50.5,46.3 53.7,47.5 54.5,51.5 54.5,66.5 50.5,71.5 52.5,80.5 55.5,88.5 59.5,96.5 62.5,101.5 62.4,104.5 60.9,114.5 62.4,124.5 66.4,134.5 70.4,144.5 73.4,154.5 73.9,161.5 75.4,164.5 76.7,173.5 77.9,182.5 79.4,195.5 79.9,205.5 79.7,216.5 78.4,223.5 73.4,229.5 68.9,232.9 67.9,241.5 66.4,248.5 60.5,251.5 60.5,254.5 64.4,255.9 69.4,256.5 73.4,261.5 75.3,268.5 75.9,272.5 75.4,278.5 74.2,284.5 72.7,292.5" fill="none" stroke="#ff8c00" stroke-width="9" stroke-linejoin="round" stroke-linecap="round" /><polygon points="-6.3,24 0.2,23 3.7,19.5 6.2,22.5 8.2,26.5 10.7,33.5 13.2,38.5 17.7,42 19.7,48.5 23.2,53 27.7,54.3 32.7,54 36.7,70.5 40.7,72.5 45.7,70.5 48.5,71.5 49.5,80.5 52.5,88.5 56.5,96.5 59.5,101.5 54.5,104.5 54.5,114.5 56.5,124.5 60.5,134.5 64.4,144.5 67.4,154.5 64.7,158.5 58.5,161.5 60.5,170.5 59.5,180.5 66.4,188.5 70.4,198.5 72.4,208.5 71.4,217.5 68.4,224.5 64.4,231.5 60.5,241.5 56.5,249.5 54.5,258.5 54.5,266.5 55.5,270.5 64.4,274.5 64.4,292.5 108.7,292.5 108.7,-5.5 -6.3,-5.5" fill="#ffb900" /><polyline points="-0.8,20 1.7,18.5 4.7,15.5 7.2,18.5 9.7,22.5 12.7,30.5 14.7,35.5 19.7,39.5 21.7,46.5 24.7,50.8 32.7,50.3 35.7,47.3 41.5,46.3 50.5,46.3 53.7,47.5 54.5,51.5 54.5,66.5 50.5,71.5 52.5,80.5 55.5,88.5 59.5,96.5 62.5,101.5 62.4,104.5 60.9,114.5 62.4,124.5 66.4,134.5 70.4,144.5 73.4,154.5 73.9,161.5 75.4,164.5 76.7,173.5 77.9,182.5 79.4,195.5 79.9,205.5 79.7,216.5 78.4,223.5 73.4,229.5 68.9,232.9 67.9,241.5 66.4,248.5 60.5,251.5 60.5,254.5 64.4,255.9 69.4,256.5 73.4,261.5 75.3,268.5 75.9,272.5 75.4,278.5 74.2,284.5 72.7,292.5" fill="none" stroke="#ffc800" stroke-width="5.5" stroke-linejoin="round" stroke-linecap="round" /><polyline points="-0.8,20 1.7,18.5 4.7,15.5 7.2,18.5 9.7,22.5 12.7,30.5 14.7,35.5 19.7,39.5 21.7,46.5 24.7,50.8 32.7,50.3 35.7,47.3 41.5,46.3 50.5,46.3 53.7,47.5 54.5,51.5 54.5,66.5 50.5,71.5 52.5,80.5 55.5,88.5 59.5,96.5 62.5,101.5 62.4,104.5 60.9,114.5 62.4,124.5 66.4,134.5 70.4,144.5 73.4,154.5 73.9,161.5 75.4,164.5 76.7,173.5 77.9,182.5 79.4,195.5 79.9,205.5 79.7,216.5 78.4,223.5 73.4,229.5 68.9,232.9 67.9,241.5 66.4,248.5 60.5,251.5 60.5,254.5 64.4,255.9 69.4,256.5 73.4,261.5 75.3,268.5 75.9,272.5 75.4,278.5 74.2,284.5 72.7,292.5" fill="none" stroke="#ffeb00" stroke-width="3.2" stroke-linejoin="round" stroke-linecap="round" /><polygon points="62,161.5 64,170.5 63,180.5 69.9,188.5 73.9,198.5 75.9,208.5 74.9,217.5 71.9,224.5 58,258.5 58,266.5 59,270.5 67.9,274.5 67.9,292.5 83.7,292.5 83.7,226.5 83.7,158.5" fill="#ffeb00" /><polygon points="-0.8,20 1.7,18.5 4.7,15.5 7.2,18.5 9.7,22.5 12.7,30.5 14.7,35.5 19.7,39.5 21.7,46.5 24.7,50.8 32.7,50.3 35.7,47.3 41.5,46.3 50.5,46.3 53.7,47.5 54.5,51.5 54.5,66.5 50.5,71.5 52.5,80.5 55.5,88.5 59.5,96.5 62.5,101.5 62.4,104.5 60.9,114.5 62.4,124.5 66.4,134.5 70.4,144.5 73.4,154.5 73.9,161.5 75.4,164.5 76.7,173.5 77.9,182.5 79.4,195.5 79.9,205.5 79.7,216.5 78.4,223.5 73.4,229.5 68.9,232.9 67.9,241.5 66.4,248.5 60.5,251.5 60.5,254.5 64.4,255.9 69.4,256.5 73.4,261.5 75.3,268.5 75.9,272.5 75.4,278.5 74.2,284.5 72.7,292.5 108.7,292.5 108.7,-5.5 -6.3,-5.5 -6.3,20" fill="#6cf096" /><polygon points="0.8,20 3.3,18.5 6.3,15.5 8.8,18.5 11.3,22.5 14.3,30.5 16.3,35.5 21.3,39.5 23.3,46.5 26.3,50.8 34.3,50.3 37.3,47.3 43.1,46.3 52.1,46.3 55.3,47.5 56.1,51.5 56.1,66.5 52.1,71.5 54.1,80.5 57.1,88.5 61.1,96.5 64.1,101.5 64,104.5 62.5,114.5 64,124.5 68,134.5 72,144.5 75,154.5 75.5,161.5 77,164.5 78.3,173.5 79.5,182.5 81,195.5 81.5,205.5 81.3,216.5 80,223.5 75,229.5 70.5,232.9 69.5,241.5 68,248.5 62.1,251.5 62.1,254.5 66,255.9 71,256.5 75,261.5 76.9,268.5 77.5,272.5 77,278.5 75.8,284.5 74.3,292.5 108.7,292.5 108.7,-5.5 -6.3,-5.5 -6.3,17.5" fill="#00dcff" /><polygon points="54.1,56.5 55.1,68.5 58.1,78.5 61,88.5 65,98.5 67,106.5 63,108.5 63,114.5 66,124.5 71,134.5 74,144.5 75,154.5 76,161.5 79,164.5 80,170.5 81,180.5 81,190.5 81,200.5 80.5,217.5 78,226.5 76,236.5 77,246.5 77.5,256.5 77,266.5 76,274.5 74.8,284.5 73.3,292.5 108.7,292.5 108.7,56.5" fill="#1c84ff" /><polygon points="-5.9,4.1 0.6,9.1 5.1,13.1 10.1,19.1 15.1,25.1 20.1,31.1 25.1,36.1 23.6,42.1 26.1,48.1 31.1,49.1 35.1,46.1 38.1,42.1 34.1,38.1 40.1,37.1 46.1,40.1 53.1,43.1 61.1,46.1 69.1,50.1 79.1,53.1 109.1,56.1 108.7,-5.5 -6.3,-5.5" fill="#1c84ff" /><polygon points="27.7,34.5 34.7,35 40.7,38.5 34.7,40 29.7,38.5" fill="#6cf096" /><polygon points="54.7,46.5 62.7,48.5 72.7,52.5 84.7,56.5 108.7,59.5 108.7,65.5 90.7,64.5 78.7,62.5 68.7,58.5 60.7,55.5 55.7,52.5" fill="#00dcff" /><polygon points="86.7,57.5 100.7,59.5 100.7,63.5 88.7,63" fill="#6cf096" /><polygon points="60.5,51.5 68.4,52.5 74.4,51.5 79.4,56.5 89.3,58.5 89.3,61.5 79.4,60.5 72.4,56.5 67.4,56.5" fill="#ffb900" /><polygon points="34.6,57.5 39.5,52.5 47.5,51.5 48.5,58.5 46.5,64.5 41.5,61.5 37.5,69.5 34.6,68.5 33.6,61.5" fill="#ffa000" /><polygon points="34.7,59.5 37.7,56.5 40.7,58.5 37.2,65.5 34.7,66.5" fill="#00dcff" /><polygon points="41.7,55.5 44.7,54 45.2,61.5 42.7,62.5" fill="#ffb900" /><polygon points="39.7,54.5 41.7,54 42.2,60.5 40.2,61.5" fill="#111" /><polygon points="56.7,-5.5 108.7,-5.5 108.7,34.5 93.7,16.5 83.7,11.5 70.7,6.5 62.7,2.5" fill="#ffb900" /><polygon points="72.7,0 86.7,0.5 94.7,5.5 100.7,10.5 100.7,18.5 92.7,11.5 84.7,7 76.7,4.5" fill="#ffa000" /><polygon points="85.7,14.5 90.7,17.5 96.7,24.5 100.2,32.5 100.2,42.5 96.7,36.5 92.7,26.5 87.7,19.5" fill="#1e6eff" /><polyline points="-0.8,20 1.7,18.5 4.7,15.5 7.2,18.5 9.7,22.5 12.7,30.5 14.7,35.5 19.7,39.5 21.7,46.5 24.7,50.8 32.7,50.3 35.7,47.3 41.5,46.3 50.5,46.3 53.7,47.5 54.5,51.5 54.5,66.5 50.5,71.5 52.5,80.5 55.5,88.5 59.5,96.5 62.5,101.5 62.4,104.5 60.9,114.5 62.4,124.5 66.4,134.5 70.4,144.5 73.4,154.5 73.9,161.5 75.4,164.5" fill="none" stroke="#111" stroke-width="1.7" stroke-linejoin="round" stroke-linecap="round" /><polyline points="77.9,182.5 79.4,195.5 79.9,205.5 79.7,216.5 78.4,223.5 73.4,229.5 68.9,232.9 67.9,241.5 66.4,248.5 60.5,251.5 60.5,254.5 64.4,255.9 69.4,256.5 73.4,261.5 75.3,268.5 75.9,272.5 75.4,278.5" fill="none" stroke="#111" stroke-width="1.7" stroke-linejoin="round" stroke-linecap="round" /><polyline points="60.5,51.5 68.4,52.5 74.4,51.5 79.4,56.5 89.3,58.5 89.3,61.5 79.4,60.5 72.4,56.5 67.4,56.5 60.5,51.5" fill="none" stroke="#111" stroke-width="1.5" stroke-linejoin="round" stroke-linecap="round" /><polyline points="34.6,57.5 39.5,52.5 47.5,51.5 48.5,58.5 46.5,64.5 41.5,61.5 37.5,69.5 34.6,68.5 33.6,61.5 34.6,57.5" fill="none" stroke="#111" stroke-width="1.5" stroke-linejoin="round" stroke-linecap="round" /><polyline points="61.7,256.5 64.7,258.5 65.2,263.5 63.7,265.5" fill="none" stroke="#111" stroke-width="1.4" stroke-linejoin="round" stroke-linecap="round" /><polyline points="65.2,254.5 68.7,255" fill="none" stroke="#111" stroke-width="1.6" stroke-linejoin="round" stroke-linecap="round" /><polyline points="62.7,0.5 64.7,4.5 69.7,7 74.7,9 79.7,11.5 83.7,14.5" fill="none" stroke="#111" stroke-width="1.5" stroke-linejoin="round" stroke-linecap="round" stroke-dasharray="4 1.5"/><polyline points="86.7,0.5 92.7,3.5 98.7,6.5 100.7,8.5" fill="none" stroke="#111" stroke-width="1.6" stroke-linejoin="round" stroke-linecap="round" /><polyline points="94.7,15.5 97.7,20.5 100.2,25.5" fill="none" stroke="#111" stroke-width="1.6" stroke-linejoin="round" stroke-linecap="round" /><ellipse cx="29.0" cy="36.9" rx="3.4" ry="1.4" fill="#111" transform="rotate(-8 29.0 36.9)"/><polygon points="29.7,42.5 34.7,42 38.7,44.5 36.7,47 33.2,46 31.7,48.5 30.2,45.5" fill="#111" /><polyline points="2.7,15.5 6.7,17 4.7,21.5" fill="none" stroke="#111" stroke-width="1.0" stroke-linejoin="round" stroke-linecap="round" /><polyline points="7.2,18 8.7,21.5" fill="none" stroke="#111" stroke-width="1.0" stroke-linejoin="round" stroke-linecap="round" /><polyline points="47.2,44.5 49.7,46 48.2,48.5" fill="none" stroke="#111" stroke-width="1.0" stroke-linejoin="round" stroke-linecap="round" /><polyline points="50.2,43 52.7,44.5 51.2,47" fill="none" stroke="#111" stroke-width="1.0" stroke-linejoin="round" stroke-linecap="round" /><polyline points="76.2,166.5 78.7,168 77.2,171.5" fill="none" stroke="#111" stroke-width="1.0" stroke-linejoin="round" stroke-linecap="round" /><polyline points="77.7,172.5 80.2,174.5 78.2,177.5" fill="none" stroke="#111" stroke-width="1.0" stroke-linejoin="round" stroke-linecap="round" /><polyline points="78.7,178.5 80.7,180 79.2,182.5" fill="none" stroke="#111" stroke-width="1.0" stroke-linejoin="round" stroke-linecap="round" /><polyline points="70.7,282.5 74.2,283.5 72.2,287.5" fill="none" stroke="#111" stroke-width="1.0" stroke-linejoin="round" stroke-linecap="round" /><polyline points="74.7,284.5 77.2,286.5 75.2,289.5" fill="none" stroke="#111" stroke-width="1.0" stroke-linejoin="round" stroke-linecap="round" /><polygon points="0,0 0.5,1 4.5,4 8.5,7.5 9,10.5 15.4,14.4 19.4,18.9 28.4,23.9 30.4,26.4 35.4,26.9 38.3,30.4 43.3,32.4 46.3,36.4 53.3,39.3 59.3,42.8 61.3,45.3 68.2,45.3 71.2,47.3 74.2,48.5 80.2,52 88.2,54.5 94.1,55 100.5,55.5 100.5,26.5 99.1,25.5 95.1,22.5 91.1,19.5 87.2,15.5 85.2,12.5 79.2,10.5 74.2,8 65.2,5 60.3,0" fill="#fff" /><polygon points="85.2,-0.5 101.5,-0.5 101.5,6 95.1,4.5 91.1,2.5" fill="#fff" /><polygon points="72.2,-0.5 78.2,-0.5 78.2,2.1 72.2,2.1" fill="#fff" /><polygon points="101.5,63.5 97.1,64.9 91.1,63.9 83.2,63.5 73.2,59.5 65.2,55.5 59.8,53 60.8,57.5 59.8,61.5 60.3,68.5 61.3,74.5 63.2,77.9 68.2,82.9 70.2,88.4 71.2,93.3 72.2,101.3 74.2,104.5 76.7,109.5 77.7,114.5 78.2,119.5 80.5,119 83.2,120.5 85.2,122.1 91.1,122.5 85.2,124.5 81.2,126.5 79.2,127.5 79.7,129.5 80.7,134.5 81.2,135.5 85.2,133.9 89.2,135.5 86.2,138.5 85.2,141.5 86.7,144.5 84.2,145.5 82.2,142.5 81.7,138.5 80.7,139.5 81.2,147.5 80.7,154.5 82.2,155.5 86.2,158.8 91.1,155.8 95.1,155.8 101.5,156.8 101.5,158.5 95.1,159.3 90.1,160.3 86.2,160.3 84.2,161.8 86.2,165.5 85.7,170 84.2,172.5 84.2,180.5 85.7,184.5 85.2,190.5 87.7,193.5 85.7,197.5 84.2,199.5 84.2,210.5 83.2,218.5 81.2,238.5 80.2,248.5 79.2,258.5 78.2,268.5 77.2,278.5 80.2,280.5 76.2,284.5 75.2,291.5 101.5,291.5" fill="#fff" /><polyline points="6,3 9,5 11,3.5" fill="none" stroke="#1e6eff" stroke-width="0.9" stroke-linejoin="round" stroke-linecap="round" /><polyline points="13,6 16,9 19,7 20,4" fill="none" stroke="#1e6eff" stroke-width="0.9" stroke-linejoin="round" stroke-linecap="round" /><polyline points="22,11 25,13 27,10 26,7" fill="none" stroke="#1e6eff" stroke-width="0.9" stroke-linejoin="round" stroke-linecap="round" /><polyline points="27,17 31,17 33.5,14" fill="none" stroke="#1e6eff" stroke-width="0.9" stroke-linejoin="round" stroke-linecap="round" /><polyline points="37,25 40,22 43,24 42,20" fill="none" stroke="#1e6eff" stroke-width="0.9" stroke-linejoin="round" stroke-linecap="round" /><polyline points="45,30 48,26 47,23" fill="none" stroke="#1e6eff" stroke-width="0.9" stroke-linejoin="round" stroke-linecap="round" /><polyline points="49,27 53,24.5 55.5,20 55.5,13" fill="none" stroke="#1e6eff" stroke-width="0.9" stroke-linejoin="round" stroke-linecap="round" /><polyline points="90,18 94,22 98,27" fill="none" stroke="#1e6eff" stroke-width="1.0" stroke-linejoin="round" stroke-linecap="round" /><polyline points="93,24 97,30 99,36" fill="none" stroke="#1e6eff" stroke-width="1.0" stroke-linejoin="round" stroke-linecap="round" /><polyline points="96,38 98.5,46" fill="none" stroke="#1e6eff" stroke-width="1.0" stroke-linejoin="round" stroke-linecap="round" />
</g></g>
<rect x="871.3" y="41.5" width="100.2" height="290.9" fill="none" stroke="#7a7a7a" stroke-width="1"/><path d="M871.3 65.4h3M971.5 65.4h-3" stroke="#5a5a5a" stroke-width="1"/><text x="867.6999999999999" y="70.3" font-size="13.8" text-anchor="end" textLength="15.4" lengthAdjust="spacingAndGlyphs" >49</text><path d="M871.3 114.0h3M971.5 114.0h-3" stroke="#5a5a5a" stroke-width="1"/><text x="867.6999999999999" y="118.9" font-size="13.8" text-anchor="end" textLength="15.4" lengthAdjust="spacingAndGlyphs" >48</text><path d="M871.3 162.6h3M971.5 162.6h-3" stroke="#5a5a5a" stroke-width="1"/><text x="867.6999999999999" y="167.5" font-size="13.8" text-anchor="end" textLength="15.4" lengthAdjust="spacingAndGlyphs" >47</text><path d="M871.3 211.2h3M971.5 211.2h-3" stroke="#5a5a5a" stroke-width="1"/><text x="867.6999999999999" y="216.1" font-size="13.8" text-anchor="end" textLength="15.4" lengthAdjust="spacingAndGlyphs" >46</text><path d="M871.3 259.8h3M971.5 259.8h-3" stroke="#5a5a5a" stroke-width="1"/><text x="867.6999999999999" y="264.7" font-size="13.8" text-anchor="end" textLength="15.4" lengthAdjust="spacingAndGlyphs" >45</text><path d="M871.3 308.4h3M971.5 308.4h-3" stroke="#5a5a5a" stroke-width="1"/><text x="867.6999999999999" y="313.3" font-size="13.8" text-anchor="end" textLength="15.4" lengthAdjust="spacingAndGlyphs" >44</text><path d="M888.2 332.4v-3M888.2 41.5v3" stroke="#5a5a5a" stroke-width="1"/><path d="M921.6 332.4v-3M921.6 41.5v3" stroke="#5a5a5a" stroke-width="1"/><path d="M955.0 332.4v-3M955.0 41.5v3" stroke="#5a5a5a" stroke-width="1"/><text x="870.4" y="349.0" font-size="13.8" text-anchor="start" textLength="96.6" lengthAdjust="spacingAndGlyphs" xml:space="preserve">-126 -125 -124</text><text x="871.9" y="364.2" font-size="12.2" text-anchor="start" textLength="96.6" lengthAdjust="spacingAndGlyphs" >Longitude (deg E)</text><text transform="translate(844.8,187.4) rotate(-90)" font-size="12.2" text-anchor="middle" textLength="91" lengthAdjust="spacingAndGlyphs">Latitude (deg N)</text>
<rect x="990.0" y="41.0" width="15.6" height="293.0" fill="url(#cmapr)"/><path d="M990.4 41.0V333.5H1005.2V41.0" fill="none" stroke="#222" stroke-width="0.8" stroke-opacity="0.55"/><path d="M990.0 333.5h2.5M1005.6 333.5h-2.5" stroke="#222" stroke-width="0.8" stroke-opacity="0.7"/><text x="1007.9" y="337.4" font-size="10.67" text-anchor="start" >7.4</text><path d="M990.0 297.0h2.5M1005.6 297.0h-2.5" stroke="#222" stroke-width="0.8" stroke-opacity="0.7"/><text x="1007.9" y="300.9" font-size="10.67" text-anchor="start" >7.5</text><path d="M990.0 260.5h2.5M1005.6 260.5h-2.5" stroke="#222" stroke-width="0.8" stroke-opacity="0.7"/><text x="1007.9" y="264.4" font-size="10.67" text-anchor="start" >7.6</text><path d="M990.0 224.0h2.5M1005.6 224.0h-2.5" stroke="#222" stroke-width="0.8" stroke-opacity="0.7"/><text x="1007.9" y="227.8" font-size="10.67" text-anchor="start" >7.7</text><path d="M990.0 187.5h2.5M1005.6 187.5h-2.5" stroke="#222" stroke-width="0.8" stroke-opacity="0.7"/><text x="1007.9" y="191.3" font-size="10.67" text-anchor="start" >7.8</text><path d="M990.0 151.0h2.5M1005.6 151.0h-2.5" stroke="#222" stroke-width="0.8" stroke-opacity="0.7"/><text x="1007.9" y="154.8" font-size="10.67" text-anchor="start" >7.9</text><path d="M990.0 114.5h2.5M1005.6 114.5h-2.5" stroke="#222" stroke-width="0.8" stroke-opacity="0.7"/><text x="1007.9" y="118.3" font-size="10.67" text-anchor="start" >8</text><path d="M990.0 78.0h2.5M1005.6 78.0h-2.5" stroke="#222" stroke-width="0.8" stroke-opacity="0.7"/><text x="1007.9" y="81.8" font-size="10.67" text-anchor="start" >8.1</text>
<text x="47.0" y="27.7" font-size="20.45">Oxygen (ml L<tspan dy="-8.6" font-size="16">-1</tspan><tspan dy="8.6">)</tspan></text><text x="379.0" y="27.7" font-size="20.45" text-anchor="middle" >Chl-a</text><text x="649.7" y="27.7" font-size="20.45" text-anchor="middle" >SST (deg C)</text><text x="921.2" y="27.7" font-size="20.45" text-anchor="middle" >pH</text>
<clipPath id="tsclip"><rect x="54.5" y="373.5" width="976.3" height="81.1"/></clipPath><path d="M54.5 391.5H1030.8" stroke="#b8b8b8" stroke-width="1" stroke-dasharray="1 2"/><path d="M54.5 414.0H1030.8" stroke="#b8b8b8" stroke-width="1" stroke-dasharray="1 2"/><path d="M54.5 436.5H1030.8" stroke="#b8b8b8" stroke-width="1" stroke-dasharray="1 2"/><path d="M165.4 373.5V454.6" stroke="#b8b8b8" stroke-width="1" stroke-dasharray="1 2"/><path d="M265.5 373.5V454.6" stroke="#b8b8b8" stroke-width="1" stroke-dasharray="1 2"/><path d="M376.4 373.5V454.6" stroke="#b8b8b8" stroke-width="1" stroke-dasharray="1 2"/><path d="M483.6 373.5V454.6" stroke="#b8b8b8" stroke-width="1" stroke-dasharray="1 2"/><path d="M594.5 373.5V454.6" stroke="#b8b8b8" stroke-width="1" stroke-dasharray="1 2"/><path d="M701.8 373.5V454.6" stroke="#b8b8b8" stroke-width="1" stroke-dasharray="1 2"/><path d="M812.7 373.5V454.6" stroke="#b8b8b8" stroke-width="1" stroke-dasharray="1 2"/><path d="M923.5 373.5V454.6" stroke="#b8b8b8" stroke-width="1" stroke-dasharray="1 2"/><rect x="54.5" y="373.5" width="976.3" height="81.1" fill="none" stroke="#707070" stroke-width="1"/><path d="M54.5 391.5h9.5M1030.8 391.5h-9.5" stroke="#707070" stroke-width="1"/><path d="M54.5 414.0h9.5M1030.8 414.0h-9.5" stroke="#707070" stroke-width="1"/><path d="M54.5 436.5h9.5M1030.8 436.5h-9.5" stroke="#707070" stroke-width="1"/><path d="M165.4 373.5v10.5M165.4 454.6v-10.5" stroke="#707070" stroke-width="1"/><path d="M265.5 373.5v10.5M265.5 454.6v-10.5" stroke="#707070" stroke-width="1"/><path d="M376.4 373.5v10.5M376.4 454.6v-10.5" stroke="#707070" stroke-width="1"/><path d="M483.6 373.5v10.5M483.6 454.6v-10.5" stroke="#707070" stroke-width="1"/><path d="M594.5 373.5v10.5M594.5 454.6v-10.5" stroke="#707070" stroke-width="1"/><path d="M701.8 373.5v10.5M701.8 454.6v-10.5" stroke="#707070" stroke-width="1"/><path d="M812.7 373.5v10.5M812.7 454.6v-10.5" stroke="#707070" stroke-width="1"/><path d="M923.5 373.5v10.5M923.5 454.6v-10.5" stroke="#707070" stroke-width="1"/><text x="54.5" y="471.0" font-size="14.6" text-anchor="middle" textLength="23.7" lengthAdjust="spacingAndGlyphs" >Jan</text><text x="165.4" y="471.0" font-size="14.6" text-anchor="middle" textLength="25.3" lengthAdjust="spacingAndGlyphs" >Feb</text><text x="265.5" y="471.0" font-size="14.6" text-anchor="middle" textLength="25.3" lengthAdjust="spacingAndGlyphs" >Mar</text><text x="376.4" y="471.0" font-size="14.6" text-anchor="middle" textLength="23.6" lengthAdjust="spacingAndGlyphs" >Apr</text><text x="483.6" y="471.0" font-size="14.6" text-anchor="middle" textLength="28.3" lengthAdjust="spacingAndGlyphs" >May</text><text x="594.5" y="471.0" font-size="14.6" text-anchor="middle" textLength="23.1" lengthAdjust="spacingAndGlyphs" >Jun</text><text x="701.8" y="471.0" font-size="14.6" text-anchor="middle" textLength="18.7" lengthAdjust="spacingAndGlyphs" >Jul</text><text x="812.7" y="471.0" font-size="14.6" text-anchor="middle" textLength="26.7" lengthAdjust="spacingAndGlyphs" >Aug</text><text x="923.5" y="471.0" font-size="14.6" text-anchor="middle" textLength="24.1" lengthAdjust="spacingAndGlyphs" >Sep</text><text x="1030.8" y="471.0" font-size="14.6" text-anchor="middle" textLength="23.1" lengthAdjust="spacingAndGlyphs" >Oct</text><text x="51.6" y="396.0" font-size="13.8" text-anchor="end" textLength="15.8" lengthAdjust="spacingAndGlyphs" >50</text><text x="51.6" y="418.5" font-size="13.8" text-anchor="end" textLength="7.8" lengthAdjust="spacingAndGlyphs" >0</text><text x="51.6" y="441.0" font-size="13.8" text-anchor="end" textLength="21.4" lengthAdjust="spacingAndGlyphs" >-50</text><text x="183.0" y="387.8" font-size="16" text-anchor="start" textLength="261.6" lengthAdjust="spacingAndGlyphs" >8-day Upwelling Index, upwelling &gt; 0</text><text x="504.0" y="488.2" font-size="16" text-anchor="start" textLength="74.8" lengthAdjust="spacingAndGlyphs" >Year 2013</text><rect x="213.0" y="373.5" width="2.8" height="81.1" fill="#00f000"/><g clip-path="url(#tsclip)"><polyline points="148.6,413.4 153.6,412.2 165.5,412.4 171.5,409.8 179.5,407.8 187.5,409.2 190.4,413.8 193.4,422.8 197.4,424.8 202.4,428.8 207.4,426.8 211.4,422.8 214.4,417.2 219.3,414.4 225.3,411.2 232.3,411.8 236.3,406.8 240.3,406.6 244,418.8 250,436.7 259.9,436.3 266.9,440.7 271.9,437.7 277.9,441.7 280.8,446.7 282.2,455.7" fill="none" stroke="#0a0a0a" stroke-width="2.2" stroke-linejoin="round" stroke-linecap="round" /><polyline points="294.8,455.2 303.8,447.7 311.7,439.7 316.7,437.7 322.7,439.7 324.7,445.7 333.7,449.7 342.6,443.1 345.6,448.3 350.6,440.7 355.6,443.7 359.6,436.3 365.5,437.1 375.5,429.8 385.5,422.8 399.4,418.8 407.4,415.8 413.4,417.8 418.3,419.8 423.3,417.2 431.3,416.4 439.3,411.8 446.2,409.8 452,405.8 459.9,406.2 466.9,407.4 472.9,404.9 475.9,405.8 481.8,402.5 487.8,403.3 491.8,406.8 496.8,413.4 503.8,415.2 508.7,413.4 514.7,414.8 519.7,416.8 527.7,416.4 536.6,414.2 545.6,414.2 552,407.8 555.6,411.2 561.5,418.8 564.5,420.4 568.5,418.4 571.5,414.8 579.5,413.8 586.5,412.4 593.4,413.8 599.4,411.8 609.4,407.2 619.3,405.8 631.3,405.3 637.3,407.2 643.2,411.2 649.2,413.4 654,414.4 660.9,411.8 665.9,412.8 673.9,409.8 679.9,407.4 685.8,407.8 690.8,400.9 696.8,395.3 703.8,399.9 711.7,402.5 719.7,404.5 727.7,404.5 735.6,400.9 741.6,398.9 747.6,401.5 754.6,399.9 761.6,399.3 767.5,396.9 773.5,392.5 779.5,388.9 787.5,392.9 797.4,396.3 807.4,399.9 815.4,403.3 823.3,406.8 831.3,405.4 837.3,410.4 843.2,409.8 850.2,406.8 854.9,402.5 861.9,402.9 869.9,404.5 877.9,406.2 883.8,403.9 890.8,401.3 899.8,401.9 909.7,402.9 917.7,405.8 925.7,407.8 932.7,407.4 939.6,409.2 947.6,410.2 953.6,406.8 957.6,403.9 961.6,398.5 968.5,396.5 975.5,399.3 983.5,402.5 989.4,403.3 996.4,402.5 1005.4,405.4 1011.4,406.2 1015.3,406.8" fill="none" stroke="#0a0a0a" stroke-width="2.2" stroke-linejoin="round" stroke-linecap="round" /><circle cx="286.9" cy="453" r="1.3" fill="#0a0a0a"/></g>
<circle cx="1028.8" cy="529.6999999999999" r="49.8" fill="url(#lgsh)"/><circle cx="1028.0" cy="528.3" r="45.9" fill="#fff"/><clipPath id="lgc"><circle cx="1028.0" cy="528.3" r="44.3"/></clipPath><g clip-path="url(#lgc)"><circle cx="1028.0" cy="528.3" r="44.3" fill="url(#lg1)"/><polygon points="1016.0,482.29999999999995 1034.0,482.29999999999995 1026.0,532.3 1002.0,536.3" fill="#b4dcee" opacity="0.35"/><polygon points="1036.0,482.29999999999995 1048.0,482.29999999999995 1048.0,526.3 1034.0,530.3" fill="#9cd0ea" opacity="0.28"/><path d="M1074.0 498.29999999999995 Q1054.0 510.29999999999995 1058.0 530.3 Q1048.0 548.3 1056.0 568.3 L1078.0 568.3Z" fill="#173f86" opacity="0.55"/><path d="M988.0 558.3 Q1018.0 550.3 1042.0 562.3 Q1054.0 556.3 1068.0 564.3 L1068.0 578.3 L988.0 578.3Z" fill="#1d5596" opacity="0.6"/><path d="M998.0 566.3 Q1024.0 560.3 1050.0 570.3 L1048.0 578.3 L998.0 578.3Z" fill="#6fb4cf" opacity="0.45"/><path d="M1011.0 545.8 Q1019.0 539.8 1030.0 540.8 Q1040.0 541.8 1045.0 545.3 L1050.0 541.8 L1048.5 547.3 L1050.5 552.3 L1044.5 548.3 Q1034.0 552.3 1022.0 550.8 Q1015.0 549.3 1011.0 545.8Z" fill="#234f80" opacity="0.9"/><path d="M1013.0 544.9 Q1021.0 540.5 1031.0 541.6999999999999" stroke="#9cc4dc" stroke-width="1" fill="none" opacity="0.8"/></g><text x="990.7" y="536.5" font-size="21" font-weight="bold" textLength="78.6" lengthAdjust="spacingAndGlyphs" style="fill:#173c7a" opacity="0.6">J-SCOPE</text><text x="989.7" y="535.4" font-size="21" font-weight="bold" textLength="78.6" lengthAdjust="spacingAndGlyphs" style="fill:#fff" opacity="1">J-SCOPE</text>
</svg></body></html>
